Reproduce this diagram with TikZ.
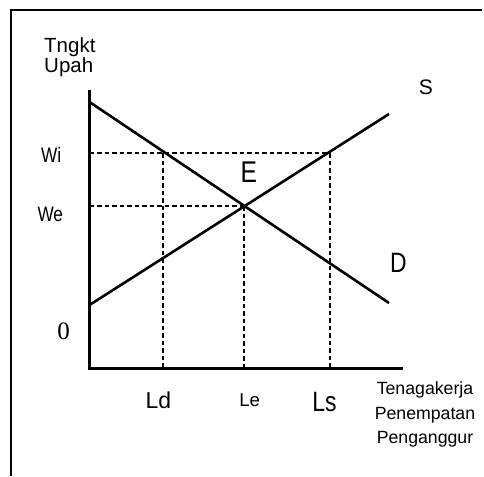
\documentclass[tikz,border=0pt]{standalone}
\usepackage{fontspec}
\setmainfont{Liberation Sans}
\newfontfamily\narrowfont[FakeStretch=0.82]{Liberation Sans}
\newfontfamily\zerofont{Liberation Serif}
\usetikzlibrary{positioning}
\definecolor{ink}{RGB}{0,0,0}
\definecolor{paper}{RGB}{255,255,255}
\tikzset{
  axisLine/.style={draw=ink, line width=3pt},
  curveLine/.style={draw=ink, line width=2.6pt},
  guideLine/.style={draw=ink, line width=1.1pt, dash pattern=on 4.5pt off 3pt},
  frameLine/.style={draw=ink, line width=1.8pt},
  label/.style={text=ink, inner sep=0pt},
  narrowLabel/.style={label, font=\narrowfont\fontsize{#1}{#1}\selectfont},
  plainLabel/.style={label, font=\fontsize{#1}{#1}\selectfont},
  axisTitle/.style={label, font=\fontsize{#1}{24.5}\selectfont}
}

\begin{document}
\begin{tikzpicture}[x=1pt,y=-1pt]

% Background
\fill[paper] (0,0) rectangle (484,476);
\useasboundingbox (0,0) rectangle (484,476);

% Frame
\coordinate (frameBL) at (11,476);
\coordinate (frameTL) at (11,10);
\coordinate (frameTR) at (482,10);
\draw[frameLine] (frameBL) -- (frameTL) -- (frameTR);

% Axes
\coordinate (origin) at (89.5,368);
\coordinate (yTop) at (89.5,90);
\coordinate (xEnd) at (403,368);
\draw[axisLine] (yTop) -- (origin) -- (xEnd);

% Demand and supply
\coordinate (dStart) at (89.5,102);
\coordinate (dEnd) at (389,303);
\coordinate (sStart) at (89.5,305);
\coordinate (sEnd) at (389,114);
\draw[curveLine] (dStart) -- (dEnd);
\draw[curveLine] (sStart) -- (sEnd);

% Wage levels
\coordinate (wiAxis) at (89.5,153);
\coordinate (wiLd) at (163,153);
\coordinate (wiLs) at (330,153);
\coordinate (weAxis) at (89.5,206);
\coordinate (eq) at (244,206);
\coordinate (ldBase) at (163,368);
\coordinate (leBase) at (244,368);
\coordinate (lsBase) at (330,368);
\draw[guideLine] (wiAxis) -- (wiLs);
\draw[guideLine] (weAxis) -- (eq);
\draw[guideLine] (wiLd) -- (ldBase);
\draw[guideLine] (eq) -- (leBase);
\draw[guideLine] (wiLs) -- (lsBase);

% Labels
\node[label, align=left, anchor=north west, font=\fontsize{20.5}{20.6}\selectfont]
  (yTitle) at (44,37.3) {Tngkt\\Upah};
\node[plainLabel=21] (sLabel) at (425.8,87.5) {S};
\node[narrowLabel=21] (wiLabel) at (51.2,155) {Wi};
\node[narrowLabel=21] (weLabel) at (50.3,214) {We};
\node[narrowLabel=30] (eLabel) at (248.8,172) {E};
\node[narrowLabel=28] (dLabel) at (398.3,263.3) {D};
\node[label, font=\zerofont\fontsize{25}{25}\selectfont] (zeroLabel) at (63.7,331.3) {0};
\node[plainLabel=23] (ldLabel) at (158.3,400) {Ld};
\node[plainLabel=18.6] (leLabel) at (249.7,400) {Le};
\node[narrowLabel=28] (lsLabel) at (324.5,401.7) {Ls};
\node[axisTitle=17.7, align=center, anchor=north] (xTitle) at (425,381.7)
  {Tenagakerja\\Penempatan\\Penganggur};

\end{tikzpicture}
\end{document}
